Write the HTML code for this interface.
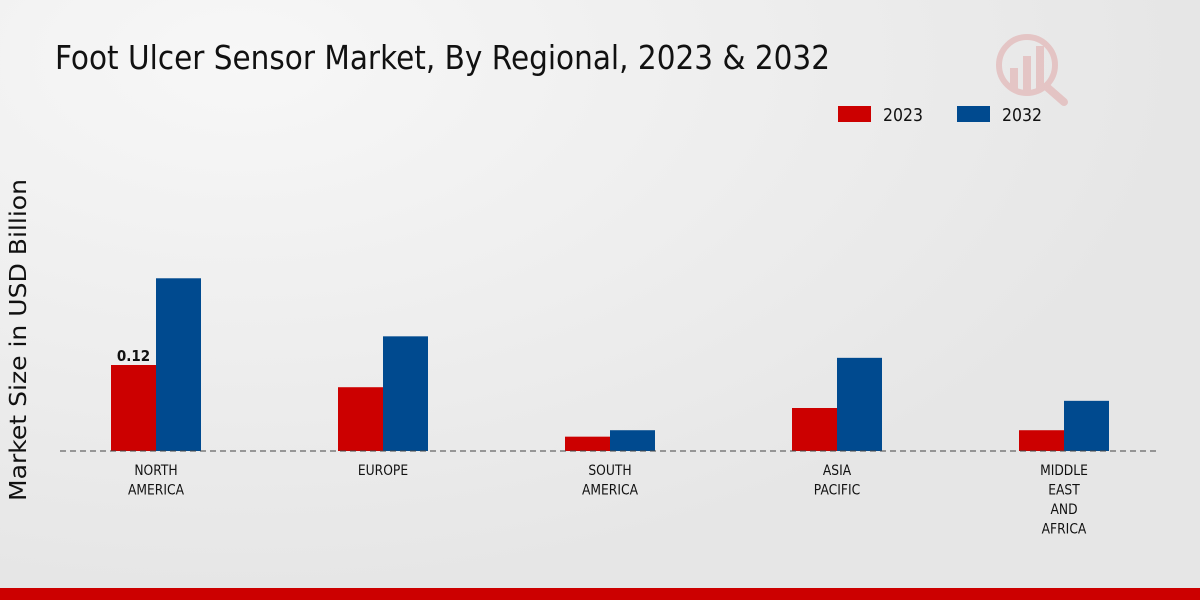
<!DOCTYPE html>
<html><head><meta charset="utf-8"><style>
body{margin:0;width:1200px;height:600px;overflow:hidden;background:radial-gradient(ellipse at 20% 10%,#f7f7f7,#e6e6e6 70%);font-family:"DejaVu Sans","Liberation Sans",sans-serif;}
svg{position:absolute;left:0;top:0}
</style></head><body>
<svg width="1200" height="600">
<text x="55" y="69" font-size="33" fill="#111" textLength="775" lengthAdjust="spacingAndGlyphs">Foot Ulcer Sensor Market, By Regional, 2023 &amp; 2032</text>
<g opacity="0.15">
<circle cx="1027" cy="65" r="28" fill="none" stroke="#c00" stroke-width="6"/>
<rect x="1010" y="68" width="8" height="22" fill="#c00"/><rect x="1023" y="56" width="8" height="34" fill="#c00"/><rect x="1036" y="46" width="8" height="44" fill="#c00"/>
<line x1="1048" y1="88" x2="1064" y2="102" stroke="#c00" stroke-width="8" stroke-linecap="round"/>
</g>
<g>
<rect x="838" y="106" width="33" height="16" fill="#cc0000"/>
<text x="883" y="121" font-size="18" fill="#111" textLength="40" lengthAdjust="spacingAndGlyphs">2023</text>
<rect x="957" y="106" width="33" height="16" fill="#004a8f"/>
<text x="1002" y="121" font-size="18" fill="#111" textLength="40" lengthAdjust="spacingAndGlyphs">2032</text>
</g>
<text transform="translate(26,340) rotate(-90)" text-anchor="middle" font-size="23" fill="#111" textLength="322" lengthAdjust="spacingAndGlyphs">Market Size in USD Billion</text>
<g id="bars"></g>
<line x1="60" y1="451" x2="1160" y2="451" stroke="#444" stroke-width="1" stroke-dasharray="6,4"/>
<rect x="0" y="588" width="1200" height="12" fill="#cc0000"/>
</svg>
<script>
const categories=[["NORTH","AMERICA"],["EUROPE"],["SOUTH","AMERICA"],["ASIA","PACIFIC"],["MIDDLE","EAST","AND","AFRICA"]];
const values2023=[0.12,0.089,0.02,0.06,0.029];
const values2032=[0.241,0.16,0.029,0.13,0.07];
const labels2023=["0.12",null,null,null,null];
const ns="http://www.w3.org/2000/svg";
const g=document.getElementById('bars');
const baseY=451,scale=86/0.12,x0=156,step=227,bw=45;
const y=v=>baseY-v*scale;
function mk(t,a){const e=document.createElementNS(ns,t);for(const k in a)e.setAttribute(k,a[k]);g.appendChild(e);return e;}
categories.forEach((c,i)=>{
 const cx=x0+i*step;
 let r=mk('rect',{x:cx-bw,y:y(values2023[i]),width:bw,height:baseY-y(values2023[i]),fill:'#cc0000'});
 
 
 r=mk('rect',{x:cx,y:y(values2032[i]),width:bw,height:baseY-y(values2032[i]),fill:'#004a8f'});
 
 
 if(labels2023[i]){const t=mk('text',{x:(cx-bw/2)/0.9,y:y(values2023[i])-4,'text-anchor':'middle','font-size':15,'font-weight':'bold',fill:'#111',transform:'scale(0.9,1)'});t.textContent=labels2023[i];
 
 }
 c.forEach((ln,j)=>{const t=mk('text',{x:cx/0.88,y:475+j*19.5,'text-anchor':'middle','font-size':14,fill:'#111',transform:'scale(0.88,1)'});t.textContent=ln;
 
 });
});
</script>
</body></html>
